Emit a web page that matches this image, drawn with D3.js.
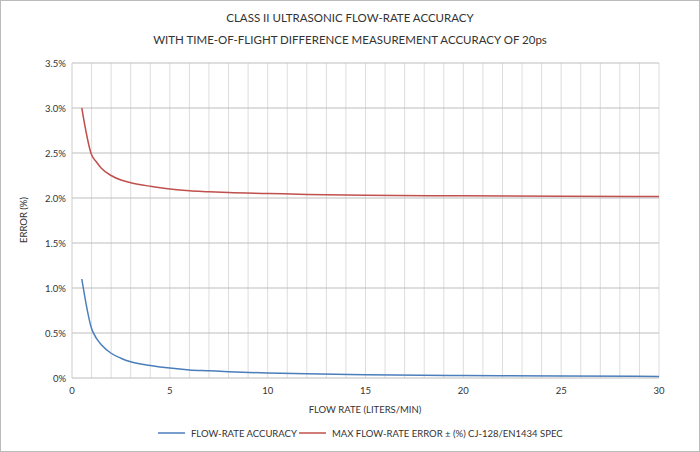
<!DOCTYPE html>
<html><head><meta charset="utf-8">
<script src="https://cdn.jsdelivr.net/npm/d3@7"></script>
<style>body{margin:0;background:#fff}text{font-family:Lato,"Open Sans",sans-serif;fill:#333}</style>
</head><body><svg width="700" height="452"></svg>
<script>
const flowRate = [0.5,1,1.25,1.5,2,2.5,3,4,5,6,7,8,10,12,15,20,25,30];
const accuracy = [1.1,0.55,0.44,0.37,0.275,0.22,0.18,0.14,0.11,0.09,0.08,0.07,0.055,0.046,0.037,0.028,0.022,0.018];
const maxError = [3.0,2.48,2.4,2.33,2.25,2.2,2.17,2.13,2.1,2.08,2.07,2.06,2.05,2.04,2.03,2.025,2.02,2.017];
const yTicks = [0,0.5,1,1.5,2,2.5,3,3.5];
const xTicks = [0,5,10,15,20,25,30];

const svg = d3.select("svg");
svg.append("rect").attr("x",0.5).attr("y",0.5).attr("width",699).attr("height",451)
  .attr("fill","#fff").attr("stroke","#bbb");

const x = d3.scaleLinear().domain([0,30]).range([72,659]);
const y = d3.scaleLinear().domain([0,3.5]).range([378,63]);

// vertical minor grid
svg.append("g").selectAll("line").data(d3.range(1,31)).join("line")
  .attr("x1",d=>x(d)).attr("x2",d=>x(d)).attr("y1",y(0)).attr("y2",y(3.5))
  .attr("stroke","#ddd").attr("stroke-width",1);
svg.append("g").selectAll("line").data(yTicks).join("line")
  .attr("x1",x(0)).attr("x2",x(30)).attr("y1",d=>y(d)).attr("y2",d=>y(d))
  .attr("stroke","#bdbdbd").attr("stroke-width",1);
svg.append("line").attr("x1",x(0)).attr("x2",x(0)).attr("y1",y(0)).attr("y2",y(3.5)).attr("stroke","#ccc");

svg.append("g").selectAll("text").data(yTicks).join("text")
  .attr("x",x(0)-6).attr("y",d=>y(d)+3.5).attr("text-anchor","end").attr("font-size",9.5)
  .text(d=>d===0?"0%":d.toFixed(1)+"%");
svg.append("g").selectAll("text").data(xTicks).join("text")
  .attr("x",d=>x(d)).attr("y",y(0)+16).attr("text-anchor","middle").attr("font-size",9.5)
  .text(d=>d);

const pts = s => flowRate.map((f,i)=>[f,s[i]]);
const line = d3.line().x(d=>x(d[0])).y(d=>y(d[1])).curve(d3.curveMonotoneX);
svg.append("path").attr("d",line(pts(maxError))).attr("fill","none").attr("stroke","#c0504d").attr("stroke-width",1.5);
svg.append("path").attr("d",line(pts(accuracy))).attr("fill","none").attr("stroke","#4a7ebb").attr("stroke-width",1.5);

svg.append("text").attr("x",350).attr("y",22).attr("text-anchor","middle").attr("font-size",11.5).text("CLASS II ULTRASONIC FLOW-RATE ACCURACY");
svg.append("text").attr("x",350).attr("y",44).attr("text-anchor","middle").attr("font-size",11.5).text("WITH TIME-OF-FLIGHT DIFFERENCE MEASUREMENT ACCURACY OF 20ps");
svg.append("text").attr("x",365).attr("y",413).attr("text-anchor","middle").attr("font-size",9.5).text("FLOW RATE (LITERS/MIN)");
svg.append("text").attr("transform","translate(27,220) rotate(-90)").attr("text-anchor","middle").attr("font-size",9.5).text("ERROR (%)");

const legend = [["FLOW-RATE ACCURACY","#4a7ebb",158],["MAX FLOW-RATE ERROR ± (%) CJ-128/EN1434 SPEC","#c0504d",299]];
legend.forEach(([t,c,lx])=>{
  svg.append("line").attr("x1",lx).attr("x2",lx+27).attr("y1",433).attr("y2",433).attr("stroke",c).attr("stroke-width",1.5);
  svg.append("text").attr("x",lx+33).attr("y",436.5).attr("font-size",9.5).text(t);
});
</script></body></html>
